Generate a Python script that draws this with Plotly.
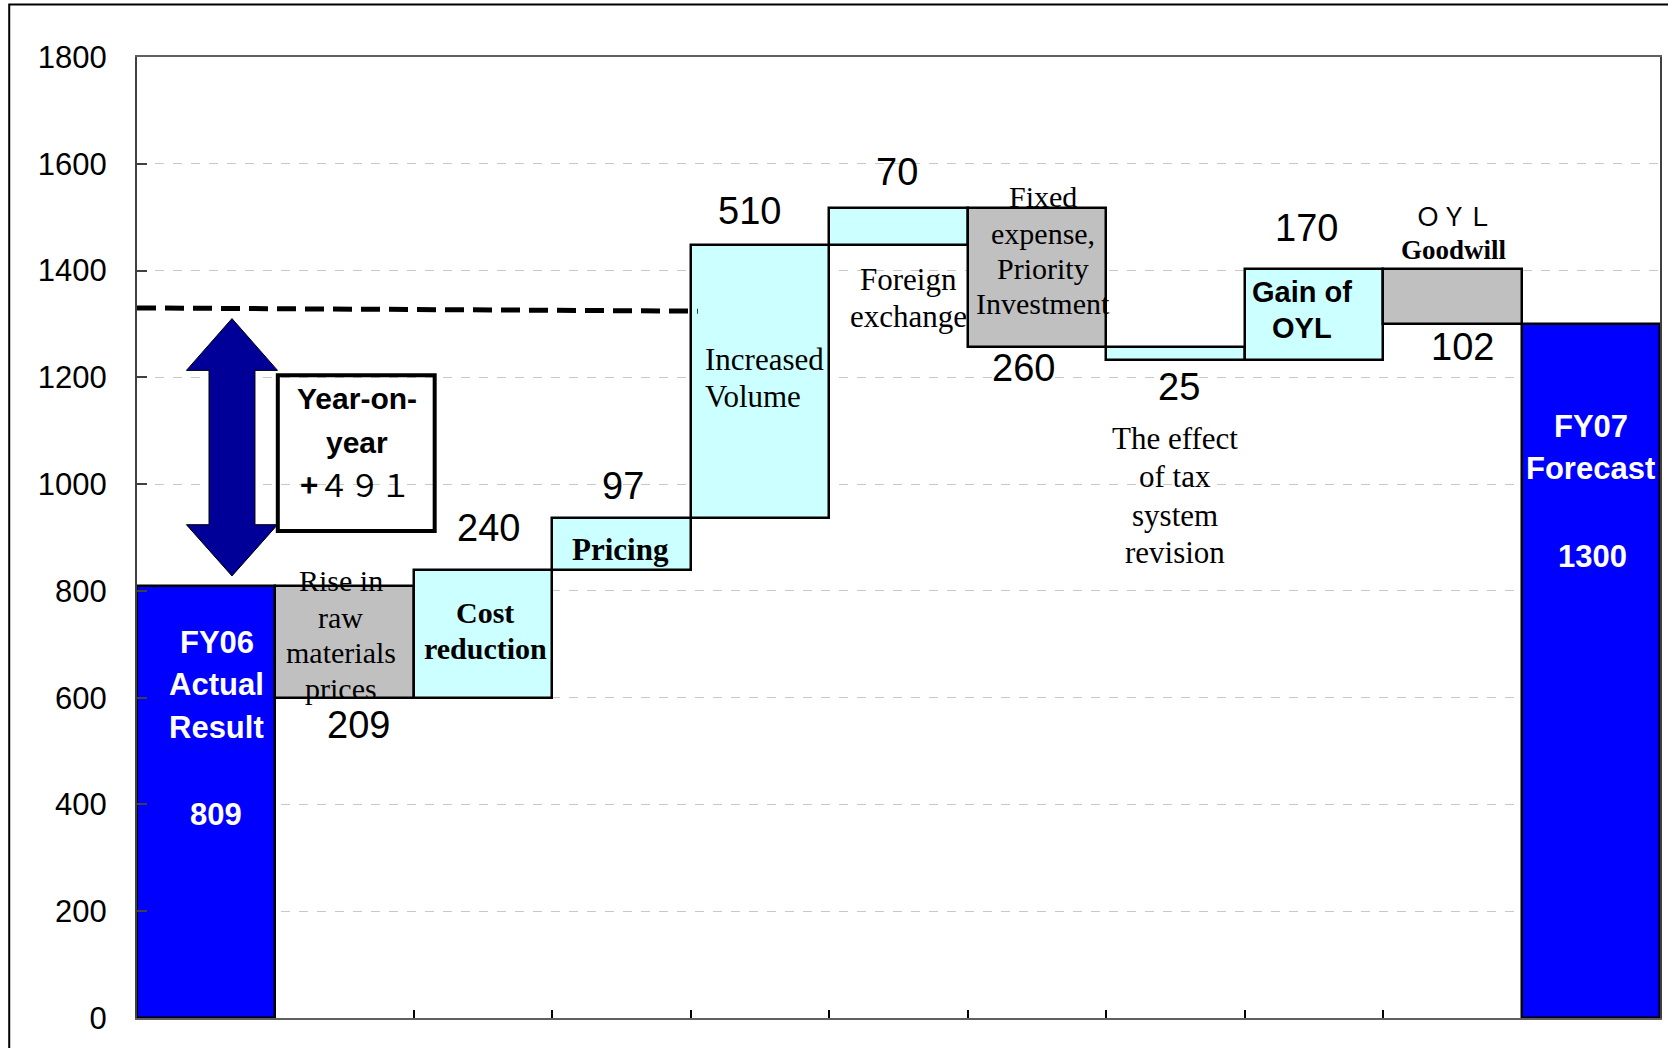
import plotly.graph_objects as go

# ---- data -------------------------------------------------------------
categories = [
    "FY06 Actual Result",
    "Rise in raw materials prices",
    "Cost reduction",
    "Pricing",
    "Increased Volume",
    "Foreign exchange",
    "Fixed expense, Priority Investment",
    "The effect of tax system revision",
    "Gain of OYL",
    "OYL Goodwill",
    "FY07 Forecast",
]
fy06_result = 809
step_changes = [-209, 240, 97, 510, 70, -260, -25, 170, -102]
fy07_forecast = 1300
y_tick_values = [0, 200, 400, 600, 800, 1000, 1200, 1400, 1600, 1800]

# ---- styling ------------------------------------------------------------
TOTAL = "#0000FF"
GAIN = "#CCFFFF"
COST = "#C0C0C0"
bar_colors = [TOTAL, COST, GAIN, GAIN, GAIN, GAIN, COST, GAIN, GAIN, COST, TOTAL]

SANS = "Liberation Sans, Arial, sans-serif"
SERIF = "Liberation Serif, Times New Roman, serif"
CJK = "Noto Sans CJK JP, sans-serif"

# ---- waterfall geometry from the data --------------------------------------
x_pos = list(range(len(categories)))
bases = [0]
heights = [fy06_result]
level = fy06_result
for d in step_changes:
    bases.append(level)
    heights.append(d)
    level += d
bases.append(0)
heights.append(fy07_forecast)

fig = go.Figure()
fig.add_trace(go.Bar(
    x=x_pos, y=heights, base=bases, width=1.0,
    marker=dict(color=bar_colors, line=dict(color="black", width=2.5)),
    hoverinfo="skip", showlegend=False,
))

annotations = []


def label(x, y, text, family, size, color="black", bold=False, xanchor="center"):
    if bold:
        text = f"<b>{text}</b>"
    annotations.append(dict(
        x=x, y=y, xref="x", yref="y", text=text, showarrow=False,
        xanchor=xanchor, yanchor="middle",
        font=dict(family=family, size=size, color=color),
    ))


# value labels for every step, placed beside each bar
value_label_pos = [(1.103, 548), (2.039, 917), (3.013, 997), (3.926, 1511),
                   (4.99, 1585), (5.905, 1218), (7.025, 1182), (7.946, 1479),
                   (9.073, 1256)]
for d, (lx, ly) in zip(step_changes, value_label_pos):
    label(lx, ly, str(abs(d)), SANS, 38)

# totals written inside the blue bars
label(0.068, 381, str(fy06_result), SANS, 31, "white", bold=True)
label(10.01, 865, str(fy07_forecast), SANS, 31, "white", bold=True)

# category captions, one line at a time
caption_blocks = [
    (["FY06", "Actual", "Result"], 0.075, [704, 624, 544], SANS, 31, "white", True, "center"),
    (["Rise in", "raw", "materials", "prices"], 0.973, [819, 750, 684, 618], SERIF, 30, "black", False, "center"),
    (["Cost", "reduction"], 2.016, [760, 692], SERIF, 30, "black", True, "center"),
    (["Pricing"], 2.99, [877], SERIF, 31, "black", True, "center"),
    (["Increased", "Volume"], 3.589, [1234, 1164], SERIF, 31, "black", False, "left"),
    (["Foreign", "exchange"], 5.069, [1383, 1314], SERIF, 31, "black", False, "center"),
    (["Fixed", "expense,", "Priority", "Investment"], 6.043, [1539, 1469, 1403, 1338], SERIF, 30, "black", False, "center"),
    (["The effect", "of tax", "system", "revision"], 6.995, [1086, 1015, 941, 871], SERIF, 31, "black", False, "center"),
    (["Gain of", "OYL"], 7.915, [1360, 1292], SANS, 29, "black", True, "center"),
    (["Goodwill"], 9.012, [1439], SERIF, 27, "black", True, "center"),
    (["FY07", "Forecast"], 10.0, [1108, 1029], SANS, 31, "white", True, "center"),
]
for lines, cx, ys, fam, size, color, bold, anchor in caption_blocks:
    for text, ly in zip(lines, ys):
        label(cx, ly, text, fam, size, color, bold, anchor)

label(9.012, 1505, "ＯＹＬ", CJK, 26)

# year-on-year callout
yoy = fy07_forecast - fy06_result
yoy_fullwidth = "".join(chr(ord(c) + 0xFEE0) for c in str(yoy))
label(1.088, 1160, "Year-on-", SANS, 30, bold=True)
label(1.088, 1078, "year", SANS, 30, bold=True)
label(1.075, 1001, "<b>+</b>" + yoy_fullwidth, CJK, 31)

fig.update_layout(annotations=annotations)

# ---- decorations --------------------------------------------------------------
shapes = []
# outer chart border
shapes.append(dict(type="rect", xref="paper", yref="paper",
                   x0=-0.0839, x1=1.01, y0=-0.05, y1=1.0546,
                   line=dict(color="black", width=2), fillcolor="rgba(0,0,0,0)",
                   layer="below"))
# previous plan level (dashed)
shapes.append(dict(type="line", xref="x", yref="y",
                   x0=-0.5, y0=1330, x1=3.55, y1=1324,
                   line=dict(color="black", width=5, dash="19px,9px")))
# double-headed arrow
cx, hw, sw = 0.186, 0.329, 0.166
tip_top, base_top, base_bot, tip_bot = 1310, 1213, 924, 828
arrow_path = (
    f"M {cx},{tip_top} L {cx + hw},{base_top} L {cx + sw},{base_top} "
    f"L {cx + sw},{base_bot} L {cx + hw},{base_bot} L {cx},{tip_bot} "
    f"L {cx - hw},{base_bot} L {cx - sw},{base_bot} L {cx - sw},{base_top} "
    f"L {cx - hw},{base_top} Z"
)
shapes.append(dict(type="path", xref="x", yref="y", path=arrow_path,
                   fillcolor="#000099", line=dict(color="black", width=1)))
# callout box
shapes.append(dict(type="rect", xref="x", yref="y",
                   x0=0.517, x1=1.65, y0=912, y1=1204,
                   line=dict(color="black", width=4), fillcolor="rgba(0,0,0,0)"))
fig.update_layout(shapes=shapes)

fig.update_xaxes(
    range=[-0.5, 10.5],
    tickvals=[i + 0.5 for i in range(len(categories) - 1)],
    ticks="inside", ticklen=8, tickwidth=1.5, tickcolor="black",
    showticklabels=False, showgrid=False, zeroline=False,
    showline=True, linecolor="#606060", linewidth=2, mirror=True,
)
fig.update_yaxes(
    range=[0, 1800], tickvals=y_tick_values,
    ticks="inside", ticklen=10, tickwidth=1.5, tickcolor="#404040",
    showgrid=True, gridcolor="#C8C8C8", griddash="dash", gridwidth=1,
    zeroline=False, showline=True, linecolor="#404040", linewidth=2, mirror=True,
    tickfont=dict(family=SANS, size=31, color="black"),
    ticklabelstandoff=22,
)
fig.update_layout(
    width=1668, height=1048,
    margin=dict(l=137, r=6, t=57, b=30),
    paper_bgcolor="white", plot_bgcolor="white",
    showlegend=False, bargap=0,
)

fig.write_html("out.html")
